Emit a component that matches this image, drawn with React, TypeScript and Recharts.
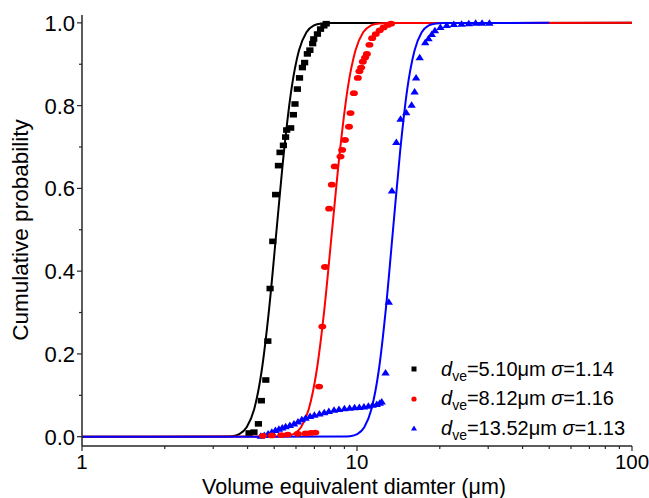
import { ComposedChart, Line, Scatter, XAxis, YAxis, Label } from 'recharts';

// measured points (diameter in um, cumulative probability)
const blackX = [4.05, 4.22, 4.38, 4.49, 4.66, 4.74, 4.83, 4.94, 5.06, 5.18, 5.25, 5.4, 5.5, 5.55, 5.74, 5.87, 5.95, 6.07, 6.18, 6.33, 6.45, 6.6, 6.74, 6.9, 6.96, 7.18, 7.37, 7.58, 7.73];
const blackY = [0.009, 0.011, 0.031, 0.087, 0.137, 0.231, 0.358, 0.472, 0.585, 0.655, 0.687, 0.704, 0.724, 0.741, 0.746, 0.778, 0.804, 0.84, 0.867, 0.892, 0.904, 0.925, 0.934, 0.95, 0.961, 0.973, 0.985, 0.993, 0.998];

const redX = [4.55, 4.9, 5.3, 5.6, 6.1, 6.5, 6.8, 7.05, 7.28, 7.48, 7.65, 7.92, 8.1, 8.3, 8.71, 8.83, 9.04, 9.35, 9.47, 9.74, 10.07, 10.2, 10.35, 10.5, 10.7, 10.86, 11.1, 11.35, 11.7, 12.1, 12.5, 12.95, 13.3];
const redY = [0.002, 0.003, 0.004, 0.005, 0.007, 0.008, 0.009, 0.01, 0.121, 0.266, 0.41, 0.551, 0.609, 0.653, 0.677, 0.693, 0.717, 0.749, 0.782, 0.83, 0.867, 0.883, 0.892, 0.906, 0.916, 0.925, 0.947, 0.963, 0.973, 0.982, 0.989, 0.995, 0.998];

const blueX = [4.47, 4.6, 4.75, 4.9, 5.05, 5.2, 5.35, 5.5, 5.7, 5.9, 6.1, 6.3, 6.5, 6.75, 7.0, 7.3, 7.6, 7.9, 8.25, 8.6, 9.0, 9.4, 9.8, 10.2, 10.6, 11.0, 11.4, 11.8, 12.1, 12.3, 12.7, 13.05, 13.4, 13.9, 14.4, 15.1, 15.8, 16.2, 16.4, 16.9, 17.7, 18.2, 18.7, 19.2, 20.1, 21.2, 22.5, 24, 25.5, 27, 28.5, 30.3];
const blueY = [0.002, 0.004, 0.008, 0.012, 0.016, 0.019, 0.022, 0.025, 0.028, 0.032, 0.037, 0.042, 0.046, 0.05, 0.053, 0.056, 0.059, 0.062, 0.065, 0.067, 0.069, 0.07, 0.071, 0.072, 0.073, 0.075, 0.077, 0.079, 0.082, 0.085, 0.155, 0.326, 0.595, 0.712, 0.768, 0.784, 0.802, 0.834, 0.868, 0.917, 0.953, 0.963, 0.973, 0.982, 0.99, 0.995, 0.997, 0.998, 0.999, 1.0, 1.0, 1.0];

// fitted curves
const fitBlackX = [1, 3.29, 3.51, 3.73, 3.97, 4.23, 4.5, 4.79, 5.1, 5.43, 5.78, 6.15, 6.55, 6.97, 7.42, 7.9, 100];
const fitBlackY = [0, 0.0002, 0.0013, 0.0062, 0.0228, 0.0668, 0.1587, 0.3085, 0.5, 0.6915, 0.8413, 0.9332, 0.9772, 0.9938, 0.9987, 0.9998, 1];
const fitRedX = [1, 5.15, 5.5, 5.87, 6.26, 6.68, 7.13, 7.61, 8.12, 8.67, 9.25, 9.87, 10.53, 11.24, 11.99, 12.8, 100];
const fitRedY = [0, 0.0002, 0.0013, 0.0062, 0.0228, 0.0668, 0.1587, 0.3085, 0.5, 0.6915, 0.8413, 0.9332, 0.9772, 0.9938, 0.9987, 0.9998, 1];
const fitBlueX = [1, 8.88, 9.43, 10.02, 10.63, 11.29, 11.99, 12.73, 13.52, 14.36, 15.24, 16.19, 17.19, 18.25, 19.38, 20.58, 50];
const fitBlueY = [0, 0.0002, 0.0013, 0.0062, 0.0228, 0.0668, 0.1587, 0.3085, 0.5, 0.6915, 0.8413, 0.9332, 0.9772, 0.9938, 0.9987, 0.9998, 1];

const xTicks = [1, 2, 3, 4, 5, 6, 7, 8, 9, 10, 20, 30, 40, 50, 60, 70, 80, 90, 100];
const xMajor = [1, 10, 100];
const yTicks = [0, 0.1, 0.2, 0.3, 0.4, 0.5, 0.6, 0.7, 0.8, 0.9, 1.0];
const yMajor = [0, 0.2, 0.4, 0.6, 0.8, 1.0];

const legendItems = [
  { d: '5.10', s: '1.14', color: '#000000', marker: 'square' },
  { d: '8.12', s: '1.16', color: '#ff0000', marker: 'circle' },
  { d: '13.52', s: '1.13', color: '#0000ff', marker: 'triangle' },
];

const zip = (xs: number[], ys: number[]) => xs.map((x, i) => ({ x, y: ys[i] }));

const AXIS = '#262626';
const FONT = '"Liberation Sans", Arial, sans-serif';

const XTick = (props: any) => {
  const { x, y, payload } = props;
  const major = xMajor.includes(payload.value);
  return (
    <g>
      <line x1={x} x2={x} y1={y} y2={y + (major ? 5 : 3)} stroke={AXIS} strokeWidth={1.2} />
      {major && (
        <text x={x} y={y + 22.5} textAnchor="middle" fontSize={20.5} fill="#000" fontFamily={FONT}>
          {payload.value}
        </text>
      )}
    </g>
  );
};

const YTick = (props: any) => {
  const { x, y, payload } = props;
  const major = yMajor.some((v) => Math.abs(v - payload.value) < 1e-6);
  return (
    <g>
      <line x1={x - (major ? 5 : 3)} x2={x} y1={y} y2={y} stroke={AXIS} strokeWidth={1.2} />
      {major && (
        <text x={x - 7} y={y + 8} textAnchor="end" fontSize={22} fill="#000" fontFamily={FONT}>
          {payload.value.toFixed(1)}
        </text>
      )}
    </g>
  );
};

const Square = (p: any) => <rect x={p.cx - 3.6} y={p.cy - 2.8} width={7.2} height={5.6} fill="#000" />;
const Dot = (p: any) => <ellipse cx={p.cx} cy={p.cy} rx={4} ry={2.9} fill="#ff0000" />;
const Tri = (p: any) => (
  <path d={`M${p.cx - 4.2},${p.cy + 3} L${p.cx + 4.2},${p.cy + 3} L${p.cx},${p.cy - 3.5} Z`} fill="#0000ff" />
);

const LegendMarker = ({ kind, color }: { kind: string; color: string }) => (
  <svg width={10} height={10} style={{ display: 'block' }}>
    {kind === 'square' && <rect x={2.5} y={2.5} width={5} height={5} fill={color} />}
    {kind === 'circle' && <circle cx={5} cy={5} r={2.6} fill={color} />}
    {kind === 'triangle' && <path d="M2,7.5 L8,7.5 L5,2.5 Z" fill={color} />}
  </svg>
);

export default function App() {
  return (
    <div style={{ position: 'absolute', left: 0, top: 0, width: 649, height: 498, background: '#fff', fontFamily: FONT }}>
      <ComposedChart width={649} height={498} margin={{ top: 15, right: 17, bottom: 0, left: 0 }}>
        <XAxis
          dataKey="x"
          type="number"
          scale="log"
          domain={[1, 100]}
          allowDataOverflow
          ticks={xTicks}
          interval={0}
          height={52}
          tickSize={0}
          tickMargin={0}
          tickLine={false}
          axisLine={{ stroke: AXIS, strokeWidth: 1.5 }}
          tick={<XTick />}
        >
          <Label
            content={() => (
              <text x={354} y={493.5} textAnchor="middle" fontSize={21.5} fill="#000" fontFamily={FONT}>
                Volume equivalent diamter (μm)
              </text>
            )}
          />
        </XAxis>
        <XAxis xAxisId="top" orientation="top" type="number" domain={[0, 1]} ticks={[]} height={0} tick={false} tickLine={false} axisLine={{ stroke: AXIS, strokeWidth: 1.5 }} />
        <YAxis
          type="number"
          domain={[-0.0225, 1.019]}
          allowDataOverflow
          ticks={yTicks}
          interval={0}
          width={82}
          tickSize={0}
          tickMargin={0}
          tickLine={false}
          axisLine={{ stroke: AXIS, strokeWidth: 1.5 }}
          tick={<YTick />}
        >
          <Label
            content={() => (
              <text transform="translate(27.5,230) rotate(-90)" textAnchor="middle" fontSize={22.5} fill="#000" fontFamily={FONT}>
                Cumulative probability
              </text>
            )}
          />
        </YAxis>
        <YAxis yAxisId="right" orientation="right" type="number" domain={[0, 1]} ticks={[]} width={0} tick={false} tickLine={false} axisLine={{ stroke: AXIS, strokeWidth: 1.5 }} />

        <Line data={zip(fitBlackX, fitBlackY)} dataKey="y" type="monotone" stroke="#000000" strokeWidth={2} dot={false} isAnimationActive={false} />
        <Line data={zip(fitRedX, fitRedY)} dataKey="y" type="monotone" stroke="#ff0000" strokeWidth={2} dot={false} isAnimationActive={false} />
        <Line data={zip(fitBlueX, fitBlueY)} dataKey="y" type="monotone" stroke="#0000ff" strokeWidth={2} dot={false} isAnimationActive={false} />
        <Scatter data={zip(blueX, blueY)} dataKey="y" shape={Tri} isAnimationActive={false} />
        <Scatter data={zip(redX, redY)} dataKey="y" shape={Dot} isAnimationActive={false} />
        <Scatter data={zip(blackX, blackY)} dataKey="y" shape={Square} isAnimationActive={false} />
      </ComposedChart>

      {legendItems.map((item, i) => (
        <div
          key={item.d}
          style={{ position: 'absolute', left: 409, top: 357 + i * 29.5, height: 24, display: 'flex', alignItems: 'center', fontSize: 20, color: '#000', whiteSpace: 'nowrap' }}
        >
          <LegendMarker kind={item.marker} color={item.color} />
          <span style={{ marginLeft: 22 }}>
            <i>d</i>
            <span style={{ fontSize: 14, position: 'relative', top: 5 }}>ve</span>={item.d}μm <i>σ</i>={item.s}
          </span>
        </div>
      ))}
    </div>
  );
}
